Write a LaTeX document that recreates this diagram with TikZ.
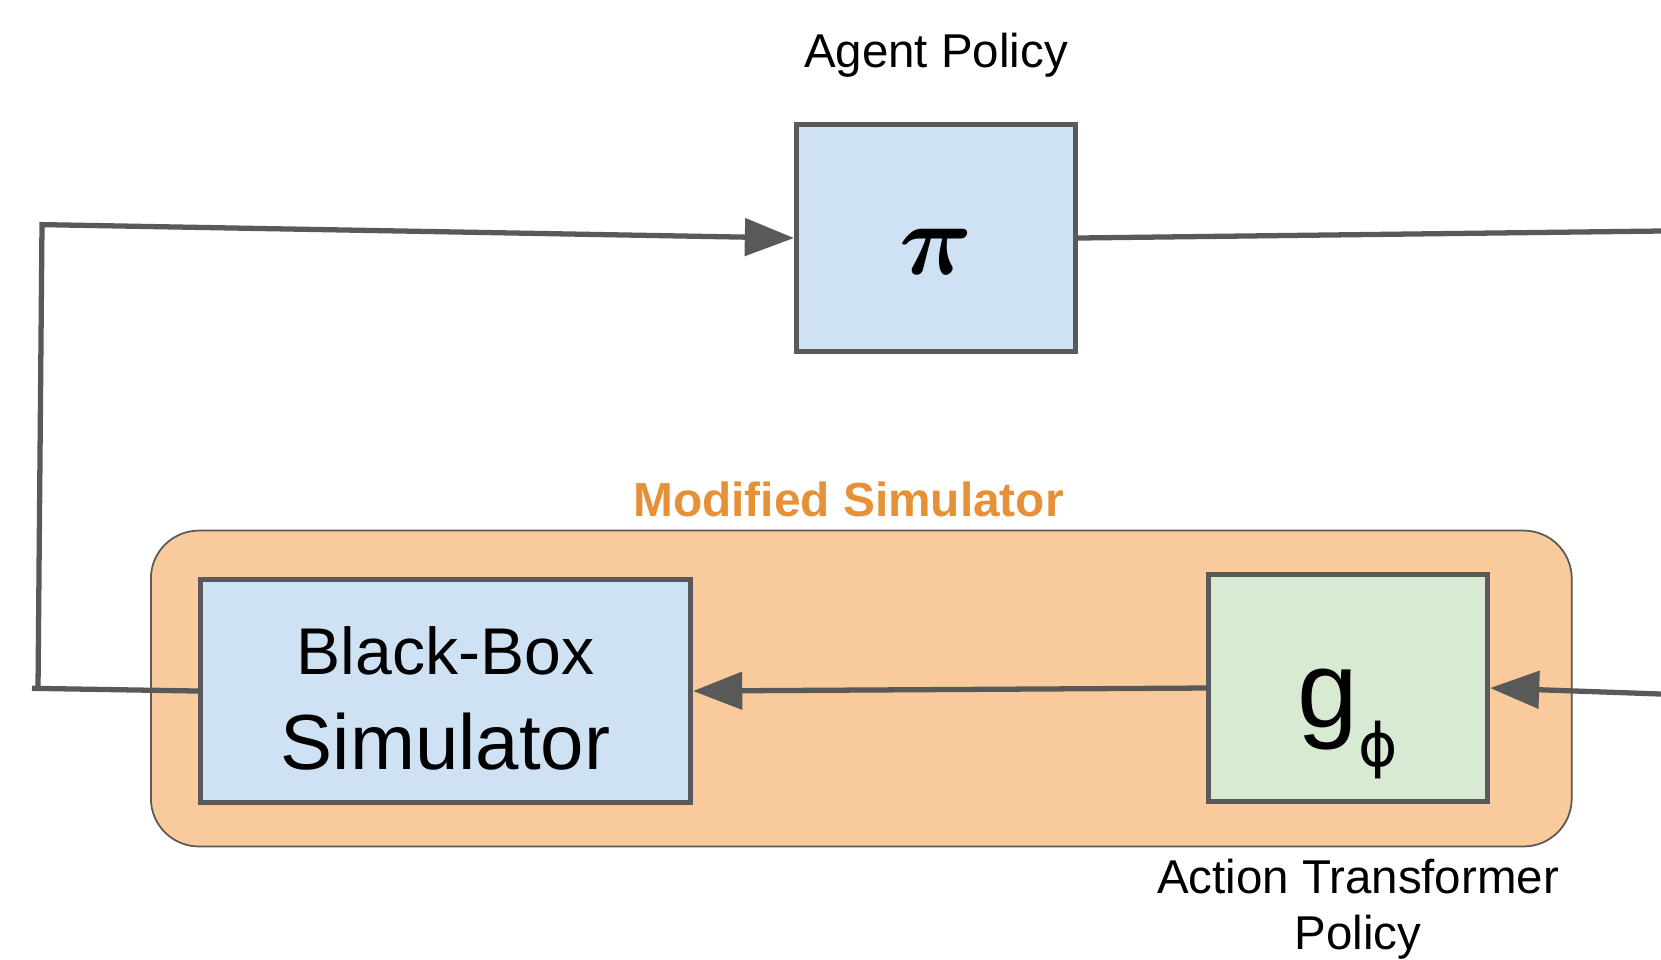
\documentclass[tikz,border=0pt]{standalone}
\usepackage{amsmath,amssymb}
\usepackage{xcolor}
\usepackage{graphicx}
\usepackage{fontspec}
\setmainfont{Liberation Sans}
\newfontfamily\phifont{DejaVu Sans}
\usepackage{tikz}
\usetikzlibrary{arrows.meta,positioning}

\definecolor{linegray}{HTML}{595959}
\definecolor{boxblue}{HTML}{CFE2F3}
\definecolor{boxgreen}{HTML}{D9EAD3}
\definecolor{simorange}{HTML}{F9CB9C}
\definecolor{textorange}{HTML}{E69138}

\begin{document}
\begin{tikzpicture}[
      x=0.01cm, y=-0.01cm,
      box/.style={rectangle, draw=linegray, line width=1.35pt, minimum width=2.79cm,
                  minimum height=2.27cm, align=center, inner sep=0pt},
      simbox/.style={rectangle, draw=linegray, fill=simorange, line width=0.5pt,
                  rounded corners=0.48cm, minimum width=14.2cm, minimum height=3.157cm},
      txt/.style={font=\fontsize{13.5}{16.1}\selectfont, align=center, inner sep=0pt},
      wire/.style={draw=linegray, line width=1.5pt},
      arrow/.style={wire, -{Triangle[length=14pt,width=10.5pt]}},
    ]
    \useasboundingbox (0,0) rectangle (1661,959);

    % the modified simulator around both boxes
    \node[simbox] (modsim) at (861.3,688.5) {};
    \node[txt, font=\fontsize{13.6}{16}\selectfont\bfseries, text=textorange, anchor=base]
      (modlabel) at (848.5,516) {Modified Simulator};

    \node[box, fill=boxblue, text height=21pt] (pi) at (936,238)
      {\scalebox{2.9}{$\boldsymbol{\pi}$}};
    \node[txt, anchor=base] (pilabel) at (936,67) {Agent Policy};

    \node[box, fill=boxblue, minimum width=4.9cm, minimum height=2.23cm,
          font=\fontsize{18.8}{27}\selectfont] (sim) at (445.5,691)
      {\rule{0pt}{18pt}Black-Box\\\fontsize{22.2}{27}\selectfont Simulator};

    \node[box, fill=boxgreen, text height=37pt] (g) at (1348,688)
      {{\fontsize{31}{31}\selectfont g}{\phifont\fontsize{17}{17}\selectfont\raisebox{-11pt}{ϕ}}};
    \node[txt, anchor=north] (glabel) at (1358,858) {Action Transformer\\Policy};

    % free ends at the right border
    \coordinate (piout) at (1661,231);
    \coordinate (gin) at (1661,694);
    \coordinate (loopend) at (32,688.3);
    \coordinate (loopbot) at (38,690);
    \coordinate (looptop) at (42,224.6);

    \draw[wire] (pi.east) -- (piout);
    \draw[arrow] (gin) -- (g.east);
    \draw[arrow] (g.west) -- (sim.east);

    % loop back from the simulator to the policy
    \draw[wire] (sim.west) -- (loopend);
    \draw[arrow] (loopbot) -- (looptop) -- (pi.west);
  \end{tikzpicture}
\end{document}
